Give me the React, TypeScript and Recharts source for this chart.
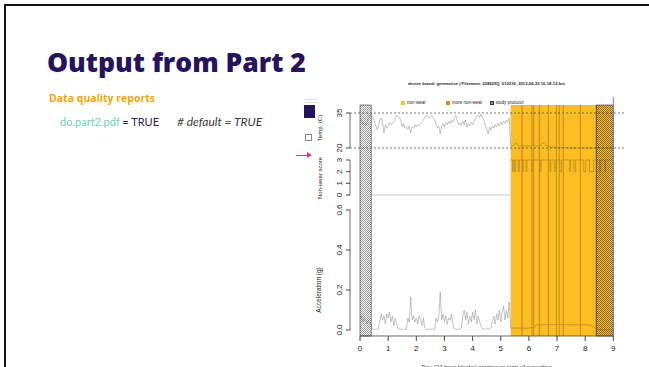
import React from "react";
import { ComposedChart, Line, XAxis, YAxis, ReferenceArea, ReferenceLine } from "recharts";

// day 0 .. 5.35 sampled every 0.05 day (worn period)
const DAY_STEP = 0.05;
const accelWear = [
  0.06, 0.07, 0.04, 0.06, 0.05, 0.03, 0.05, 0.04, 0.02, 0.005,
  0.003, 0.004, 0.003, 0.005, 0.04, 0.08, 0.05, 0.07, 0.03, 0.08,
  0.06, 0.09, 0.04, 0.07, 0.02, 0.06, 0.03, 0.005, 0.004, 0.003,
  0.004, 0.003, 0.005, 0.004, 0.06, 0.04, 0.165, 0.05, 0.07, 0.04,
  0.06, 0.03, 0.07, 0.05, 0.02, 0.06, 0.01, 0.004, 0.003, 0.003,
  0.004, 0.003, 0.004, 0.005, 0.06, 0.04, 0.07, 0.19, 0.05, 0.08,
  0.04, 0.07, 0.03, 0.06, 0.05, 0.08, 0.03, 0.005, 0.003, 0.004,
  0.003, 0.005, 0.01, 0.07, 0.1, 0.05, 0.09, 0.03, 0.07, 0.04,
  0.09, 0.05, 0.1, 0.03, 0.07, 0.04, 0.02, 0.006, 0.004, 0.005,
  0.01, 0.004, 0.006, 0.01, 0.04, 0.07, 0.03, 0.08, 0.05, 0.1,
  0.04, 0.09, 0.12, 0.05, 0.1, 0.06, 0.14, 0.01,
];
const tempWear = [
  33, 32, 30, 31, 29.5, 31, 33, 34, 33.5, 33,
  32, 30, 28, 29, 32, 33, 31, 26.5, 30, 28.5,
  29.5, 31, 30, 30.5, 31.5, 32.5, 34, 33.5, 33, 32,
  29, 30.5, 28.5, 29, 28, 29.5, 26.5, 29, 28.5, 30,
  29, 30, 29.5, 30.5, 31, 32, 33, 34, 33.5, 33,
  33.5, 34, 33, 32, 30, 28.5, 29.5, 26, 29, 30.5,
  29, 31, 30, 31.5, 30.5, 32, 31, 33, 34, 32,
  30, 31, 29.5, 31.5, 30, 32, 29, 30.5, 29.5, 31,
  30, 31.5, 32.5, 33.5, 34, 33, 34.5, 33, 32, 30,
  28, 26, 29, 27.5, 29.5, 28.5, 30, 29, 30.5, 29.5,
  31, 30, 31.5, 30.5, 32, 31, 33, 21,
];
const nonWearDays = [0.4, 5.35];
const nonWearWear = [0, 0];

// non-wear period
const accelOffDays = [5.35, 5.6, 5.9, 6.1, 6.2, 6.25, 6.5, 7.0, 7.5, 8.0, 8.2, 8.35, 8.45, 9.0];
const accelOff = [0.01, 0.01, 0.008, 0.012, 0.012, 0.025, 0.026, 0.027, 0.026, 0.026, 0.024, 0.01, 0.002, 0.0];
const tempOffDays = [5.35, 5.45, 5.55, 5.65, 5.8, 5.95, 6.05, 6.15, 6.25, 6.4, 6.5, 6.6, 6.75, 6.9, 7.1, 7.3, 7.6, 7.9, 8.2, 8.5, 8.8, 9.0];
const tempOff = [21, 21, 22.2, 21, 20.8, 21, 20.6, 21.8, 20.8, 21, 22.4, 21.2, 20.5, 20.3, 20.2, 20.1, 20, 20, 20, 20.1, 20, 20];
const scoreOffDays = [5.35, 5.42, 5.46, 5.5, 5.53, 5.62, 5.66, 5.78, 5.8, 5.9, 5.93, 6.1, 6.14, 6.4, 6.43, 6.75, 6.78, 6.9, 6.96, 7.1, 7.16, 7.45, 7.48, 7.6, 7.66, 7.95, 8.02, 8.15, 8.3, 8.5, 8.55, 8.7, 8.72, 9.0];
const scoreOff = [3, 2, 3, 2, 3, 2, 3, 2, 3, 2, 3, 2, 3, 2, 3, 2, 3, 2, 3, 2, 3, 2, 3, 2, 3, 2, 3, 2, 3, 2, 3, 2, 3, 3];

const nonWearBlock = [5.35, 9];
const moreNonWear = [
  [5.73, 5.78], [6.09, 6.13], [6.15, 6.19], [6.35, 6.4], [6.67, 6.71],
  [6.96, 7.0], [7.06, 7.1], [7.2, 7.24], [7.81, 7.85], [8.37, 8.42],
];
const protocolBlocks = [[0, 0.4], [8.4, 9]];

const dayTicks = [0, 1, 2, 3, 4, 5, 6, 7, 8, 9];
const accelTicks = [0, 0.2, 0.4, 0.6];
const scoreTicks = [0, 1, 2, 3];
const tempTicks = [20, 35];

const X_MIN = -0.355;
const ACC_MIN = -0.03;
const ACC_MAX = 1.125;
const R_FONT = "'Liberation Sans', Arial, sans-serif";
const HEAD_FONT = "'Open Sans', 'Noto Sans', sans-serif";
const BODY_FONT = "Lato, 'Noto Sans', sans-serif";
const ORANGE = "#FDBE24";
const DARK_ORANGE = "#C99419";
const LINE_GREY = "#9a9a9a";
const LINE_OFF = "#b4861a";

const byStep = (vals: number[]) => vals.map((v, i) => ({ day: +(i * DAY_STEP).toFixed(2), v }));
const pairs = (days: number[], vals: number[]) => days.map((d, i) => ({ day: d, v: vals[i] }));

function RotTick(props: any) {
  const { x, y, payload, digits } = props;
  const cx = x - 7;
  return (
    <text
      x={cx}
      y={y}
      transform={`rotate(-90, ${cx}, ${y})`}
      textAnchor="middle"
      dominantBaseline="central"
      fontSize={8}
      fontFamily={R_FONT}
      fill="#222"
    >
      {Number(payload.value).toFixed(digits)}
    </text>
  );
}

const axisLabel = (text: string, cx: number, cy: number, size: number) => (
  <div
    style={{
      position: "absolute",
      left: cx,
      top: cy,
      transform: "translate(-50%, -50%) rotate(-90deg)",
      fontFamily: R_FONT,
      fontSize: size,
      color: "#222",
      whiteSpace: "nowrap",
    }}
  >
    {text}
  </div>
);

const yAxisCommon = {
  type: "number" as const,
  allowDataOverflow: true,
  width: 0.01,
  axisLine: false,
  tickLine: { stroke: "#444" },
  tickSize: 4,
  tickMargin: 0,
  interval: 0 as const,
};

export default function App() {
  return (
    <div style={{ position: "absolute", left: 0, top: 0, width: 649, height: 367, background: "#fff", overflow: "hidden" }}>
      <svg width={0} height={0} style={{ position: "absolute" }}>
        <defs>
          <pattern id="hatch" width={2} height={2} patternUnits="userSpaceOnUse">
            <rect x={0} y={0} width={1} height={1} fill="#333" />
            <rect x={1} y={1} width={1} height={1} fill="#333" />
          </pattern>
        </defs>
      </svg>

      <div style={{ position: "absolute", left: 4, top: 4, width: 700, height: 400, borderLeft: "2.5px solid #111", borderTop: "2.5px solid #111" }} />

      <div style={{ position: "absolute", left: 47, top: 47, fontFamily: HEAD_FONT, fontWeight: 800, fontSize: 26.5, lineHeight: "30px", color: "#24135F", whiteSpace: "nowrap" }}>
        Output from Part 2
      </div>
      <div style={{ position: "absolute", left: 49, top: 91, fontFamily: HEAD_FONT, fontWeight: 700, fontSize: 10.5, lineHeight: "14px", color: "#F6A609", whiteSpace: "nowrap" }}>
        Data quality reports
      </div>
      <div style={{ position: "absolute", left: 60, top: 115, fontFamily: BODY_FONT, fontSize: 11, lineHeight: "13px", whiteSpace: "nowrap" }}>
        <span style={{ color: "#6FD1B3" }}>do.part2.pdf</span>
        <span style={{ color: "#2A1B5E" }}> = TRUE</span>
      </div>
      <div style={{ position: "absolute", left: 177, top: 114.5, fontFamily: BODY_FONT, fontStyle: "italic", fontSize: 12, lineHeight: "13px", color: "#3a3a3a", whiteSpace: "nowrap" }}>
        # default = TRUE
      </div>

      <div style={{ position: "absolute", left: 305, top: 99, width: 13, height: 1, background: "#ddd" }} />
      <div style={{ position: "absolute", left: 305, top: 102, width: 13, height: 1, background: "#ddd" }} />
      <div style={{ position: "absolute", left: 304, top: 105, width: 11, height: 13, background: "#24135F" }} />
      <div style={{ position: "absolute", left: 305, top: 134, width: 5, height: 5, border: "1px solid #888" }} />
      <div style={{ position: "absolute", left: 296, top: 154.5, width: 12, height: 1.5, background: "#E8308A" }} />
      <div style={{ position: "absolute", left: 307, top: 152, width: 0, height: 0, borderTop: "3px solid transparent", borderBottom: "3px solid transparent", borderLeft: "5px solid #E8308A" }} />

      <div style={{ position: "absolute", left: 486.5, top: 80.5, transform: "translateX(-50%)", fontFamily: R_FONT, fontWeight: 700, fontSize: 4.2, lineHeight: "5px", color: "#222", whiteSpace: "nowrap" }}>
        device brand: geneactive | Filename: 228529Q_012316_2012-06-22 10-18-12.bin
      </div>

      <div style={{ position: "absolute", left: 401, top: 101, width: 4, height: 3.5, background: ORANGE }} />
      <div style={{ position: "absolute", left: 407, top: 100, fontFamily: R_FONT, fontSize: 4.5, lineHeight: "5px", color: "#222", whiteSpace: "nowrap" }}>non-wear</div>
      <div style={{ position: "absolute", left: 446, top: 101, width: 4, height: 3.5, background: DARK_ORANGE }} />
      <div style={{ position: "absolute", left: 452, top: 100, fontFamily: R_FONT, fontSize: 4.5, lineHeight: "5px", color: "#222", whiteSpace: "nowrap" }}>more non-wear</div>
      <div style={{ position: "absolute", left: 490, top: 101, width: 4, height: 3.5, border: "0.5px solid #333", boxSizing: "border-box", backgroundColor: "#999" }} />
      <div style={{ position: "absolute", left: 495.5, top: 100, fontFamily: R_FONT, fontSize: 4.5, lineHeight: "5px", color: "#222", whiteSpace: "nowrap" }}>study protocol</div>

      {axisLabel("Temp. (C)", 320, 128, 6)}
      {axisLabel("Non-wear score", 320, 178, 6)}
      {axisLabel("Acceleration (g)", 318, 290, 6.5)}

      <div style={{ position: "absolute", left: 0, top: 0 }}>
        <ComposedChart width={649} height={367} margin={{ top: 105, right: 23, bottom: 31, left: 350 }}>
          <XAxis
            xAxisId={0}
            type="number"
            dataKey="day"
            domain={[X_MIN, 9.45]}
            ticks={dayTicks}
            interval={0}
            allowDataOverflow
            axisLine={false}
            tickLine={{ stroke: "#444" }}
            tickSize={5}
            tickMargin={4}
            height={0.01}
            tick={{ fontSize: 8, fill: "#222", fontFamily: R_FONT }}
          />
          <YAxis yAxisId="acc" {...yAxisCommon} domain={[ACC_MIN, ACC_MAX]} ticks={accelTicks} tick={(p: any) => <RotTick {...p} digits={1} />} />
          <YAxis yAxisId="nw" {...yAxisCommon} domain={[-12.086, 7.714]} ticks={scoreTicks} tick={(p: any) => <RotTick {...p} digits={0} />} />
          <YAxis yAxisId="temp" {...yAxisCommon} domain={[-60.57, 38.43]} ticks={tempTicks} tick={(p: any) => <RotTick {...p} digits={0} />} />

          <ReferenceArea yAxisId="acc" x1={nonWearBlock[0]} x2={nonWearBlock[1]} fill={ORANGE} fillOpacity={1} stroke="none" zIndex={50} />
          {moreNonWear.map(([a, b], i) => (
            <ReferenceArea key={"m" + i} yAxisId="acc" x1={a} x2={b} fill={DARK_ORANGE} fillOpacity={1} stroke="none" zIndex={51} />
          ))}

          <Line xAxisId={0} yAxisId="temp" data={byStep(tempWear)} dataKey="v" stroke={LINE_GREY} strokeWidth={0.6} dot={false} isAnimationActive={false} />
          <Line xAxisId={0} yAxisId="acc" data={byStep(accelWear)} dataKey="v" stroke={LINE_GREY} strokeWidth={0.6} dot={false} isAnimationActive={false} />
          <Line xAxisId={0} yAxisId="nw" data={pairs(nonWearDays, nonWearWear)} dataKey="v" stroke="#b0b0b0" strokeWidth={0.7} dot={false} isAnimationActive={false} />
          <Line xAxisId={0} yAxisId="temp" data={pairs(tempOffDays, tempOff)} dataKey="v" stroke={LINE_OFF} strokeWidth={0.7} dot={false} isAnimationActive={false} />
          <Line xAxisId={0} yAxisId="acc" data={pairs(accelOffDays, accelOff)} dataKey="v" stroke={LINE_OFF} strokeWidth={0.7} dot={false} isAnimationActive={false} />
          <Line xAxisId={0} yAxisId="nw" type="stepAfter" data={pairs(scoreOffDays, scoreOff)} dataKey="v" stroke={LINE_OFF} strokeWidth={0.7} dot={false} isAnimationActive={false} />

          {protocolBlocks.map(([a, b], i) => (
            <ReferenceArea key={"p" + i} yAxisId="acc" x1={a} x2={b} fill="url(#hatch)" fillOpacity={i === 0 ? 0.5 : 0.6} stroke="#333" strokeWidth={0.6} zIndex={600} />
          ))}

          <ReferenceLine yAxisId="temp" y={35} stroke="#444" strokeWidth={0.7} strokeDasharray="2 2" zIndex={700} />
          <ReferenceLine yAxisId="temp" y={20} stroke="#444" strokeWidth={0.7} strokeDasharray="2 2" zIndex={700} />

          <ReferenceLine yAxisId="acc" ifOverflow="visible" segment={[{ x: 0, y: ACC_MIN }, { x: 9, y: ACC_MIN }]} stroke="#444" strokeWidth={0.8} zIndex={800} />
          <ReferenceLine yAxisId="acc" ifOverflow="visible" segment={[{ x: 9, y: ACC_MIN }, { x: 9, y: ACC_MAX + 0.04 }]} stroke="#7b72e6" strokeWidth={1} zIndex={800} />
          <ReferenceLine yAxisId="acc" ifOverflow="visible" segment={[{ x: X_MIN, y: 0 }, { x: X_MIN, y: 0.6 }]} stroke="#444" strokeWidth={0.8} />
          <ReferenceLine yAxisId="nw" ifOverflow="visible" segment={[{ x: X_MIN, y: 0 }, { x: X_MIN, y: 3 }]} stroke="#444" strokeWidth={0.8} />
          <ReferenceLine yAxisId="temp" ifOverflow="visible" segment={[{ x: X_MIN, y: 20 }, { x: X_MIN, y: 35 }]} stroke="#444" strokeWidth={0.8} />
        </ComposedChart>
      </div>

      <div style={{ position: "absolute", left: 486.5, top: 364, transform: "translateX(-50%)", fontFamily: R_FONT, fontSize: 6, lineHeight: "7px", color: "#333", whiteSpace: "nowrap" }}>
        Day (24 hour blocks) starting at start of recording
      </div>
    </div>
  );
}
